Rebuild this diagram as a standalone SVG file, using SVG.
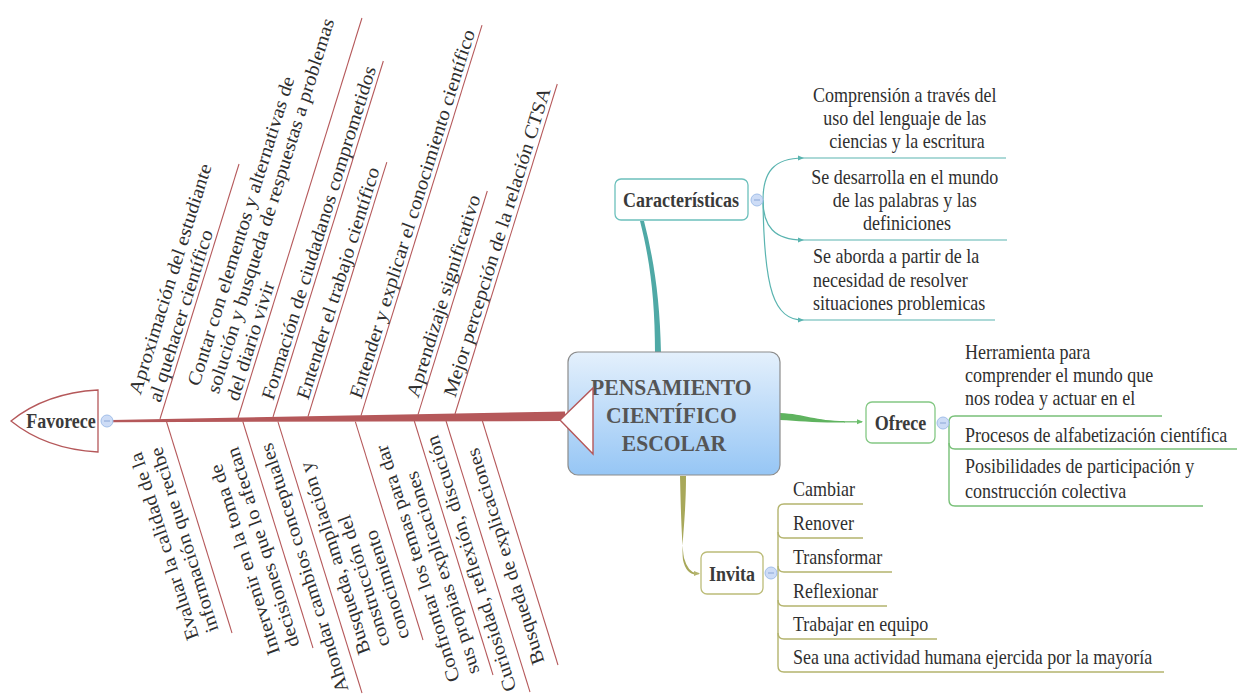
<svg xmlns="http://www.w3.org/2000/svg" width="1239" height="698" viewBox="0 0 1239 698">
<defs>
  <linearGradient id="cg" x1="0" y1="0" x2="0" y2="1">
    <stop offset="0" stop-color="#e4f0fc"/>
    <stop offset="1" stop-color="#96c6f5"/>
  </linearGradient>
  <marker id="aT" viewBox="0 0 6 6" refX="5" refY="3" markerWidth="6" markerHeight="6" orient="auto" markerUnits="userSpaceOnUse"><path d="M0,0.5 L6,3 L0,5.5 Z" fill="#5ab4b0"/></marker>
  <marker id="aG" viewBox="0 0 6 6" refX="5" refY="3" markerWidth="6" markerHeight="6" orient="auto" markerUnits="userSpaceOnUse"><path d="M0,0.5 L6,3 L0,5.5 Z" fill="#6cbf6c"/></marker>
  <marker id="aO" viewBox="0 0 6 6" refX="5" refY="3" markerWidth="6" markerHeight="6" orient="auto" markerUnits="userSpaceOnUse"><path d="M0,0.5 L6,3 L0,5.5 Z" fill="#b4b46e"/></marker>
</defs>
<style>
  .t { font-family: "Liberation Serif", "Times New Roman", serif; font-size: 20px; fill: #2f2f2f; }
  .r { font-size: 21px; }
  .b { font-weight: bold; fill: #3a3a3a; }
  .bone { stroke: #b5585a; stroke-width: 1.2; fill: none; }
  .tl { stroke: #5ab4b0; stroke-width: 1.2; fill: none; }
  .gl { stroke: #78c078; stroke-width: 1.4; fill: none; }
  .ol { stroke: #b4b46e; stroke-width: 1.4; fill: none; }
  .col { fill: #cddcf6; stroke: #a2bfe9; stroke-width: 1; }
  .mn { stroke: #8aa6d6; stroke-width: 1; }
</style>
<rect width="1239" height="698" fill="#ffffff"/>

<g id="connectors">
  <path d="M112,420 L565,411.5 L565,421 L112,422.2 Z" fill="#b5585a"/>
  <path d="M655,353 C655,300 650,260 640,221 L644,221 C654,260 660,300 661,353 Z" fill="#4fa9a6"/>
  <path d="M780,413 C805,414 815,421 845,421 L845,422.5 C815,423 800,421 780,420 Z" fill="#5fb35f"/>
  <path class="gl" d="M844,421.8 L862,421.8" marker-end="url(#aG)"/>
  <path d="M680,476 C681,520 682,545 684,558 Q688,572 696,573 L696,574.5 Q686,574 683,560 C681,545 686,520 686,476 Z" fill="#a8a85a"/>
  <path class="ol" d="M694,573.6 L699,573.6" marker-end="url(#aO)"/>
  <path class="tl" d="M763,200 C763,172 774,158 803,158" marker-end="url(#aT)"/>
  <path class="tl" d="M763,200 C763,226 774,240 803,240" marker-end="url(#aT)"/>
  <path class="tl" d="M763,200 C764,290 774,320 803,320" marker-end="url(#aT)"/>
  <path class="gl" d="M949,423 L949,422 Q949,416 955,416 L1162,416"/>
  <path class="gl" d="M949,422 L949,500 Q949,506 955,506 L1203,506"/>
  <path class="gl" d="M949,443 Q949,449 955,449 L1237,449"/>
  <path class="ol" d="M863,504 L784,504 Q778,504 778,510 L778,666 Q778,672 784,672 L1164,672"/>
  <path class="ol" d="M778,532 Q778,538 784,538 L863,538"/>
  <path class="ol" d="M778,566 Q778,572 784,572 L892,572"/>
  <path class="ol" d="M778,600 Q778,606 784,606 L887,606"/>
  <path class="ol" d="M778,633 Q778,639 784,639 L937,639"/>
</g>

<g id="favorece">
  <path d="M98,390 C62,392 32,404 11,421 C32,438 62,450 98,452 Z" fill="#ffffff" stroke="#b5585a" stroke-width="1.3"/>
  <g transform="translate(61,0) scale(0.9,1)"><text class="t b" x="0" y="428" text-anchor="middle">Favorece</text></g>
  <circle class="col" cx="107" cy="421" r="6"/>
  <line class="mn" x1="104" y1="421" x2="110" y2="421"/>
</g>

<g id="bone-u1" transform="translate(160,419) scale(0.9,1) rotate(-71)">
  <line class="bone" x1="0" y1="0" x2="269.7" y2="0"/>
  <text class="t r" x="15" y="-28">Aproximación del estudiante</text>
  <text class="t r" x="15" y="-5">al quehacer científico</text>
</g>
<g id="bone-u2" transform="translate(238,418) scale(0.9,1) rotate(-71)">
  <line class="bone" x1="0" y1="0" x2="423" y2="0"/>
  <text class="t r" x="15" y="-51">Contar con elementos y alternativas de</text>
  <text class="t r" x="15" y="-28">solución y busqueda de respuestas a problemas</text>
  <text class="t r" x="15" y="-5">del diario vivir</text>
</g>
<g id="bone-u3" transform="translate(273,417) scale(0.9,1) rotate(-71)">
  <line class="bone" x1="0" y1="0" x2="376.5" y2="0"/>
  <text class="t r" x="15" y="-5">Formación de ciudadanos comprometidos</text>
</g>
<g id="bone-u4" transform="translate(308,416.5) scale(0.9,1) rotate(-71)">
  <line class="bone" x1="0" y1="0" x2="269" y2="0"/>
  <text class="t r" x="15" y="-5">Entender el trabajo científico</text>
</g>
<g id="bone-u5" transform="translate(361,415.6) scale(0.9,1) rotate(-71)">
  <line class="bone" x1="0" y1="0" x2="413" y2="0"/>
  <text class="t r" x="15" y="-5">Entender y explicar el conocimiento científico</text>
</g>
<g id="bone-u6" transform="translate(418,414.6) scale(0.9,1) rotate(-71)">
  <line class="bone" x1="0" y1="0" x2="236.5" y2="0"/>
  <text class="t r" x="15" y="-5">Aprendizaje significativo</text>
</g>
<g id="bone-u7" transform="translate(455,414) scale(0.9,1) rotate(-71)">
  <line class="bone" x1="0" y1="0" x2="349" y2="0"/>
  <text class="t r" x="15" y="-5">Mejor percepción de la relación CTSA</text>
</g>

<g id="bone-l1" transform="translate(232,633) scale(0.9,1) rotate(-109)">
  <line class="bone" x1="0" y1="0" x2="223.7" y2="0"/>
  <text class="t r" x="8" y="-36">Evaluar la calidad de la</text>
  <text class="t r" x="8" y="-13">información que recibe</text>
</g>
<g id="bone-l2" transform="translate(313,648) scale(0.9,1) rotate(-109)">
  <line class="bone" x1="0" y1="0" x2="239.6" y2="0"/>
  <text class="t r" x="8" y="-36">Intervenir en la toma de</text>
  <text class="t r" x="8" y="-13">decisiones que lo afectan</text>
</g>
<g id="bone-l3" transform="translate(362,693) scale(0.9,1) rotate(-109)">
  <line class="bone" x1="0" y1="0" x2="287" y2="0"/>
  <text class="t r" x="8" y="-13">Ahondar cambios conceptuales</text>
</g>
<g id="bone-l4" transform="translate(423,640) scale(0.9,1) rotate(-109)">
  <line class="bone" x1="0" y1="0" x2="231" y2="0"/>
  <text class="t r" x="8" y="-59">Busqueda, ampliación y</text>
  <text class="t r" x="8" y="-36">construcción del</text>
  <text class="t r" x="8" y="-13">conocimiento</text>
</g>
<g id="bone-l5" transform="translate(493,675) scale(0.9,1) rotate(-109)">
  <line class="bone" x1="0" y1="0" x2="268.6" y2="0"/>
  <text class="t r" x="8" y="-36">Confrontar los temas para dar</text>
  <text class="t r" x="8" y="-13">sus propias explicaciones</text>
</g>
<g id="bone-l6" transform="translate(530,692) scale(0.9,1) rotate(-109)">
  <line class="bone" x1="0" y1="0" x2="286.6" y2="0"/>
  <text class="t r" x="8" y="-13">Curiosidad, reflexión, discución</text>
</g>
<g id="bone-l7" transform="translate(558,665) scale(0.9,1) rotate(-109)">
  <line class="bone" x1="0" y1="0" x2="258" y2="0"/>
  <text class="t r" x="8" y="-13">Busqueda de explicaciones</text>
</g>

<g id="central">
  <rect x="568" y="352" width="212" height="123" rx="10" fill="url(#cg)" stroke="#8c8c8c" stroke-width="1.2"/>
  <g transform="translate(674,0) scale(0.9,1)">
    <text class="t b" text-anchor="middle" style="font-size:24px;fill:#555555">
      <tspan x="0" y="395">PENSAMIENTO</tspan>
      <tspan x="0" y="423">CIENTÍFICO</tspan>
      <tspan x="0" y="451">ESCOLAR</tspan>
    </text>
  </g>
  <polygon points="560,420 593,388 593,454" fill="#ffffff" stroke="#b5585a" stroke-width="1.4"/>
</g>

<g id="caracteristicas">
  <rect x="615" y="179" width="133" height="41" rx="6" fill="#ffffff" stroke="#6cc0bc" stroke-width="1.3"/>
  <g transform="translate(681,0) scale(0.9,1)"><text class="t b" x="0" y="207" text-anchor="middle">Características</text></g>
  <circle class="col" cx="757" cy="200" r="6"/>
  <line class="mn" x1="754" y1="200" x2="760" y2="200"/>
</g>
<g id="car-1">
  <line class="tl" x1="803" y1="158" x2="1006" y2="158"/>
  <g transform="translate(907,0) scale(0.9,1)"><text class="t" text-anchor="middle">
    <tspan x="0" y="102">Comprensión a través del</tspan>
    <tspan x="0" y="125">uso del lenguaje de las</tspan>
    <tspan x="0" y="148">ciencias y la escritura</tspan>
  </text></g>
</g>
<g id="car-2">
  <line class="tl" x1="803" y1="240" x2="1007" y2="240"/>
  <g transform="translate(907,0) scale(0.9,1)"><text class="t" text-anchor="middle">
    <tspan x="0" y="184">Se desarrolla en el mundo</tspan>
    <tspan x="0" y="207">de las palabras y las</tspan>
    <tspan x="0" y="230">definiciones</tspan>
  </text></g>
</g>
<g id="car-3">
  <line class="tl" x1="803" y1="320" x2="995" y2="320"/>
  <g transform="translate(813,0) scale(0.9,1)"><text class="t">
    <tspan x="0" y="263">Se aborda a partir de la</tspan>
    <tspan x="0" y="287">necesidad de resolver</tspan>
    <tspan x="0" y="310">situaciones problemicas</tspan>
  </text></g>
</g>

<g id="ofrece">
  <rect x="866" y="402" width="69" height="41" rx="6" fill="#ffffff" stroke="#84c884" stroke-width="1.3"/>
  <g transform="translate(900.5,0) scale(0.9,1)"><text class="t b" x="0" y="430" text-anchor="middle">Ofrece</text></g>
  <circle class="col" cx="943" cy="423" r="6"/>
  <line class="mn" x1="940" y1="423" x2="946" y2="423"/>
</g>
<g id="ofr-1"><g transform="translate(965,0) scale(0.9,1)"><text class="t">
  <tspan x="0" y="359">Herramienta para</tspan>
  <tspan x="0" y="382">comprender el mundo que</tspan>
  <tspan x="0" y="405">nos rodea y actuar en el</tspan>
</text></g></g>
<g id="ofr-2"><g transform="translate(965,0) scale(0.9,1)"><text class="t" x="0" y="442">Procesos de alfabetización científica</text></g></g>
<g id="ofr-3"><g transform="translate(965,0) scale(0.9,1)"><text class="t">
  <tspan x="0" y="473">Posibilidades de participación y</tspan>
  <tspan x="0" y="498">construcción colectiva</tspan>
</text></g></g>

<g id="invita">
  <rect x="701" y="552" width="62" height="42" rx="6" fill="#ffffff" stroke="#bcbc78" stroke-width="1.3"/>
  <g transform="translate(732,0) scale(0.9,1)"><text class="t b" x="0" y="581" text-anchor="middle">Invita</text></g>
  <circle class="col" cx="771" cy="573" r="6"/>
  <line class="mn" x1="768" y1="573" x2="774" y2="573"/>
</g>
<g id="inv-1"><g transform="translate(793,0) scale(0.9,1)"><text class="t" x="0" y="496">Cambiar</text></g></g>
<g id="inv-2"><g transform="translate(793,0) scale(0.9,1)"><text class="t" x="0" y="530">Renover</text></g></g>
<g id="inv-3"><g transform="translate(793,0) scale(0.9,1)"><text class="t" x="0" y="564">Transformar</text></g></g>
<g id="inv-4"><g transform="translate(793,0) scale(0.9,1)"><text class="t" x="0" y="598">Reflexionar</text></g></g>
<g id="inv-5"><g transform="translate(793,0) scale(0.9,1)"><text class="t" x="0" y="631">Trabajar en equipo</text></g></g>
<g id="inv-6"><g transform="translate(793,0) scale(0.9,1)"><text class="t" x="0" y="664">Sea una actividad humana ejercida por la mayoría</text></g></g>
</svg>
